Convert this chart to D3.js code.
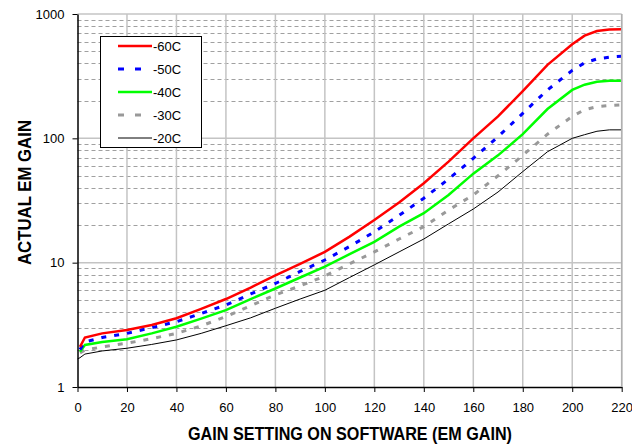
<!DOCTYPE html>
<html>
<head>
<meta charset="utf-8">
<script src="https://cdn.jsdelivr.net/npm/d3@7"></script>
<style>
body { margin: 0; background: #fff; }
text { font-family: Arial, "Liberation Sans", sans-serif; }
</style>
</head>
<body>
<div id="chart"></div>
<script>
var Width = 632;
var Height = 445;

// gain setting (x) and measured EM gain per temperature
var gainSetting = [0, 1, 3, 10, 20, 30, 40, 50, 60, 70, 80, 90, 100, 110, 120, 130, 140, 150, 160, 170, 180, 190, 200, 205, 210, 215, 220];
var gainM60 = [null, 2.1, 2.5, 2.7, 2.87, 3.15, 3.57, 4.25, 5.1, 6.3, 7.9, 9.8, 12.2, 16.2, 22, 30.5, 43.5, 65, 100, 150, 240, 390, 570, 670, 730, 750, 755];
var gainM50 = [null, 2.0, 2.3, 2.5, 2.7, 3.0, 3.35, 3.9, 4.57, 5.6, 6.8, 8.5, 10.5, 13.5, 17.7, 24, 33, 47, 69, 103, 159, 245, 352, 405, 435, 450, 458];
var gainM40 = [null, 1.92, 2.18, 2.3, 2.42, 2.7, 3.05, 3.55, 4.15, 5.1, 6.2, 7.6, 9.3, 11.7, 14.7, 19.5, 25, 35, 52, 73, 108, 172, 245, 270, 285, 290, 291];
var gainM30 = [null, 1.88, 1.98, 2.1, 2.25, 2.45, 2.7, 3.1, 3.68, 4.5, 5.5, 6.5, 7.8, 9.8, 12.2, 15.5, 19.5, 26.5, 35, 50, 73, 108, 150, 170, 180, 184, 186];
var gainM20 = [1.68, 1.72, 1.84, 1.95, 2.05, 2.2, 2.39, 2.7, 3.11, 3.6, 4.3, 5.1, 6.0, 7.6, 9.6, 12.2, 15.5, 20.5, 27, 37, 54, 78, 100, 107, 114, 117, 117];

var xTicks = [0, 20, 40, 60, 80, 100, 120, 140, 160, 180, 200, 220];
var yTicks = [1, 10, 100, 1000];
var seriesNames = ["-60C", "-50C", "-40C", "-30C", "-20C"];

// plot box (window.top is reserved, so no plain "top")
var plotLeft = 77.5, plotRight = 621.7, plotTop = 14, plotBottom = 387;

var x = d3.scaleLinear().domain([0, 220]).range([plotLeft, plotRight]);
var y = d3.scaleLog().domain([1, 1000]).range([plotBottom, plotTop]);

var svg = d3.select("#chart").append("svg")
    .attr("width", Width)
    .attr("height", Height);

// minor dashed gridlines
var minors = [];
[1, 10, 100].forEach(function(d) {
    for (var k = 2; k <= 9; k++) minors.push(d * k);
});
svg.append("g").selectAll("line")
    .data(minors)
    .enter().append("line")
    .attr("x1", plotLeft).attr("x2", plotRight)
    .attr("y1", function(d) { return Math.round(y(d)) + 0.5; })
    .attr("y2", function(d) { return Math.round(y(d)) + 0.5; })
    .attr("stroke", "#a0a0a0")
    .attr("stroke-dasharray", "4,3");

// major gridlines
svg.append("g").selectAll("line")
    .data([10, 100, 1000])
    .enter().append("line")
    .attr("x1", plotLeft).attr("x2", plotRight)
    .attr("y1", function(d) { return y(d); })
    .attr("y2", function(d) { return y(d); })
    .attr("stroke", "#c4c4c4")
    .attr("stroke-width", 1.5);

svg.append("g").selectAll("line")
    .data(xTicks.slice(1))
    .enter().append("line")
    .attr("x1", function(d) { return x(d); })
    .attr("x2", function(d) { return x(d); })
    .attr("y1", plotTop).attr("y2", plotBottom)
    .attr("stroke", "#c4c4c4")
    .attr("stroke-width", 1.5);

var series = [
    { name: seriesNames[0], values: gainM60, color: "#ff0000", width: 2.5, dash: null },
    { name: seriesNames[1], values: gainM50, color: "#0000ff", width: 3, dash: "5,8" },
    { name: seriesNames[2], values: gainM40, color: "#00ff00", width: 2.5, dash: null },
    { name: seriesNames[3], values: gainM30, color: "#999999", width: 3, dash: "5,8" },
    { name: seriesNames[4], values: gainM20, color: "#000000", width: 1, dash: null }
];

var line = d3.line()
    .defined(function(d) { return d[1] != null; })
    .x(function(d) { return x(d[0]); })
    .y(function(d) { return y(d[1]); });

// draw back to front so red sits on top
series.slice().reverse().forEach(function(s) {
    var pts = gainSetting.map(function(g, i) { return [g, s.values[i]]; });
    svg.append("path")
        .datum(pts)
        .attr("fill", "none")
        .attr("stroke", s.color)
        .attr("stroke-width", s.width)
        .attr("stroke-dasharray", s.dash)
        .attr("d", line);
});

// Left axis
var yAxis = svg.append("g")
    .attr("transform", "translate(" + plotLeft + ",0)")
    .call(d3.axisLeft(y).tickValues(yTicks).tickFormat(d3.format("d")).tickSize(5).tickPadding(8).tickSizeOuter(0));
yAxis.select(".domain").attr("stroke", "#000").attr("stroke-width", 1.5);
yAxis.selectAll("text").attr("font-size", 13).attr("fill", "#000")
    .style("font-family", "Arial, 'Liberation Sans', sans-serif");

// Bottom axis
var xAxis = svg.append("g")
    .attr("transform", "translate(0," + plotBottom + ")")
    .call(d3.axisBottom(x).tickValues(xTicks).tickSize(5).tickPadding(11).tickSizeOuter(0));
xAxis.select(".domain").attr("stroke", "#000").attr("stroke-width", 1.5);
xAxis.selectAll("text").attr("font-size", 13).attr("fill", "#000")
    .style("font-family", "Arial, 'Liberation Sans', sans-serif");

// Right border
svg.append("line")
    .attr("x1", plotRight).attr("x2", plotRight)
    .attr("y1", plotTop).attr("y2", plotBottom)
    .attr("stroke", "#b0b0b0")
    .attr("stroke-width", 1.5);

// Axis titles
svg.append("text")
    .attr("x", 350)
    .attr("y", 440)
    .attr("text-anchor", "middle")
    .attr("font-size", 19)
    .attr("font-weight", "bold")
    .attr("textLength", 324)
    .attr("lengthAdjust", "spacingAndGlyphs")
    .text("GAIN SETTING ON SOFTWARE (EM GAIN)");

svg.append("text")
    .attr("transform", "translate(31,192.5) rotate(-90)")
    .attr("text-anchor", "middle")
    .attr("font-size", 19)
    .attr("font-weight", "bold")
    .attr("textLength", 145)
    .attr("lengthAdjust", "spacingAndGlyphs")
    .text("ACTUAL EM GAIN");

// Legend
var legend = svg.append("g");
legend.append("rect")
    .attr("x", 100.5).attr("y", 36.5)
    .attr("width", 101).attr("height", 111)
    .attr("fill", "#fff")
    .attr("stroke", "#000");

var rowY = [46, 69, 92, 115, 138];
series.forEach(function(s, i) {
    legend.append("line")
        .attr("x1", 118).attr("x2", 152)
        .attr("y1", rowY[i]).attr("y2", rowY[i])
        .attr("stroke", s.color)
        .attr("stroke-width", s.width)
        .attr("stroke-dasharray", s.dash ? "6,11" : null);
    legend.append("text")
        .attr("x", 153)
        .attr("y", rowY[i] + 5)
        .attr("font-size", 13)
        .text(s.name);
});
</script>
</body>
</html>
